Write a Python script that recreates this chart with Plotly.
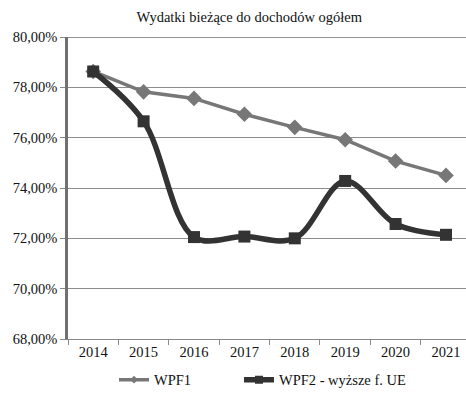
import plotly.graph_objects as go

# Lata i wskaźniki (w %)
years = ["2014", "2015", "2016", "2017", "2018", "2019", "2020", "2021"]
wpf1 = [78.63, 77.82, 77.56, 76.93, 76.41, 75.92, 75.07, 74.50]
wpf2 = [78.63, 76.65, 72.05, 72.07, 72.00, 74.28, 72.57, 72.14]

y_ticks = [68, 70, 72, 74, 76, 78, 80]
y_tick_labels = ["68,00%", "70,00%", "72,00%", "74,00%", "76,00%", "78,00%", "80,00%"]

title_text = "Wydatki bieżące do dochodów ogółem"
name1 = "WPF1"
name2 = "WPF2 - wyższe f. UE"

FONT = "Liberation Serif"
C1 = "#777777"
C2 = "#333333"

fig = go.Figure()
fig.add_trace(go.Scatter(
    x=years, y=wpf1, name=name1, mode="lines+markers", showlegend=False,
    line=dict(color=C1, width=3.5),
    marker=dict(symbol="diamond", size=12, color=C1),
))
fig.add_trace(go.Scatter(
    x=years, y=wpf2, name=name2, mode="lines+markers", showlegend=False,
    line=dict(color=C2, width=5.5, shape="spline", smoothing=1.0),
    marker=dict(symbol="square", size=12, color=C2),
))

# Legend-only entries with smaller key markers
fig.add_trace(go.Scatter(
    x=[None], y=[None], name=name1, mode="lines+markers", legend="legend",
    line=dict(color=C1, width=3.5),
    marker=dict(symbol="diamond", size=6, color=C1),
))
fig.add_trace(go.Scatter(
    x=[None], y=[None], name=name2, mode="lines+markers", legend="legend2",
    line=dict(color=C2, width=5.5),
    marker=dict(symbol="square", size=8, color=C2),
))

legend_font = dict(family=FONT, size=14.5, color="#111111")
fig.update_layout(
    width=466, height=396,
    margin=dict(l=68, r=0, t=37, b=54),
    paper_bgcolor="white", plot_bgcolor="white",
    font=dict(family=FONT, size=14, color="#111111"),
    title=dict(text=title_text, x=0.535, xanchor="center", y=0.957, yanchor="middle",
               font=dict(family=FONT, size=14.5, color="#111111")),
    showlegend=True,
    legend=dict(x=0.1156, xanchor="left", y=-0.135, yanchor="middle",
                font=legend_font, bgcolor="rgba(0,0,0,0)"),
    legend2=dict(x=0.4296, xanchor="left", y=-0.135, yanchor="middle",
                 font=legend_font, bgcolor="rgba(0,0,0,0)"),
    shapes=[dict(type="line", xref="paper", yref="y", x0=0, x1=1, y0=80, y1=80,
                 line=dict(color="#6e6e6e", width=1.5), layer="above")],
)
fig.update_xaxes(
    type="category", range=[-0.5, 7.397],
    showgrid=False, showline=True, linecolor="#888888", linewidth=1,
    ticks="outside", tickson="boundaries", ticklen=5, tickcolor="#888888",
    tickfont=dict(family=FONT, size=14.5, color="#111111"),
)
fig.update_yaxes(
    range=[68, 80], tickvals=y_ticks, ticktext=y_tick_labels,
    showgrid=True, gridcolor="#8c8c8c", gridwidth=1,
    showline=True, linecolor="#707070", linewidth=2.5,
    ticks="outside", ticklen=5, tickcolor="#888888",
    tickfont=dict(family=FONT, size=14.5, color="#111111"),
    zeroline=False,
)

fig.write_html("out.html")
